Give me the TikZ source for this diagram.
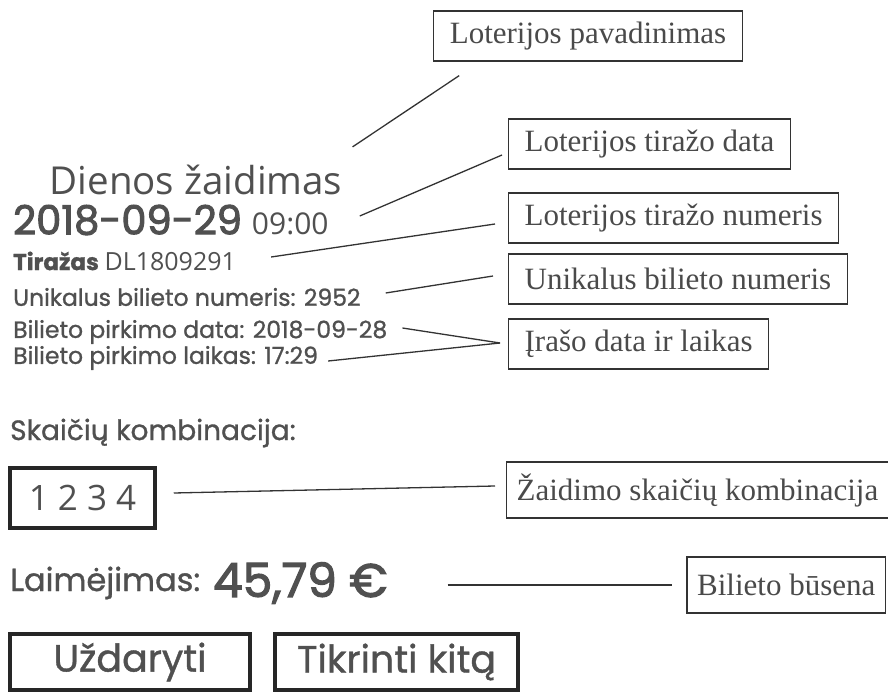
\documentclass[tikz,border=0pt]{standalone}
\usepackage{fontspec}
\setmainfont{Liberation Serif}
\newfontfamily\humanfont{Open Sans}
\newfontfamily\geofont[FakeBold=1]{Poppins}
\newfontfamily\geoheavy[FakeBold=2.5]{Poppins}
\usepackage{tikz}
\usetikzlibrary{positioning}
\definecolor{ink}{HTML}{333333}
\definecolor{inkgray}{HTML}{505050}
\definecolor{boxtext}{HTML}{4A4A4A}
\newcommand{\fsz}[1]{\fontsize{#1}{#1}\selectfont}
\tikzset{
  callout/.style={
    draw=ink,
    line width=1.3pt,
    text=boxtext,
    font=\rmfamily\fsz{31},
    inner xsep=16pt,
    inner ysep=0pt,
    minimum height=50pt,
  },
  leader/.style={draw=ink, line width=1.3pt},
  ticket/.style={inner sep=0pt, anchor=west, text=inkgray},
  framed/.style={draw=black!85, line width=3.5pt, text=inkgray, inner sep=0pt},
}

\begin{document}
\begin{tikzpicture}[x=1pt,y=-1pt]
  \fill[white] (0,0) rectangle (888,692);
  \useasboundingbox (0,0) rectangle (888,692);

  % --- ticket ---
  \node[ticket, anchor=center, font=\humanfont\fsz{38.5}] (dienos) at (196,180) {Dienos žaidimas};
  \node[ticket, font=\fsz{40}] (drawdate) at (13,220) {{\geoheavy 2018-09-29} {\humanfont\fsz{30}09:00}};
  \node[ticket, font=\fsz{23}] (tiraz) at (13,261) {{\geofont\bfseries Tiražas} {\humanfont\fsz{25}DL1809291}};
  \node[ticket, font=\geofont\fsz{23.5}] (unik) at (13,297) {Unikalus bilieto numeris: 2952};
  \node[ticket, font=\geofont\fsz{23.5}] (pdata) at (13,332) {Bilieto pirkimo data: 2018-09-28};
  \node[ticket, font=\geofont\fsz{23.5}] (plaik) at (13,358) {Bilieto pirkimo laikas: 17:29};

  \node[ticket, font=\geofont\fsz{28}] (skaic) at (10,433) {Skaičių kombinacija:};
  \node[framed, minimum width=145pt, minimum height=60pt, font=\humanfont\fsz{35}] (combo) at (82.5,498) {1 2 3 4};
  \node[ticket, font=\geofont\fsz{32}] (laim) at (10,583) {Laimėjimas:};
  \node[ticket, font=\geoheavy\fsz{47}] (suma) at (213,583) {45,79 €};

  \node[framed, minimum width=240pt, minimum height=56pt, font=\geofont\fsz{38}] (uzd) at (130,662) {Uždaryti};
  \node[framed, minimum width=243pt, minimum height=56pt, font=\geofont\fsz{38}] (tikr) at (396.5,662) {Tikrinti kitą};

  % --- callouts ---
  \node[callout] (pav) at (588,36) {Loterijos pavadinimas};
  \node[callout, anchor=west] (tdata) at (508,144) {Loterijos tiražo data};
  \node[callout, anchor=west] (tnum) at (508,218) {Loterijos tiražo numeris};
  \node[callout, anchor=west] (bnum) at (508,279) {Unikalus bilieto numeris};
  \node[callout, anchor=west] (irasas) at (508,344) {Įrašo data ir laikas};
  \node[callout, anchor=west, inner xsep=10pt, minimum height=56pt] (zkomb) at (506,490) {Žaidimo skaičių kombinacija};
  \node[callout, anchor=east, inner xsep=10pt, minimum height=56pt] (busena) at (886,585) {Bilieto būsena};

  % leaders
  \draw[leader] ([shift={(10,-18)}]dienos.north east) -- ([shift={(26,14)}]pav.south west);
  \draw[leader] ([shift={(31,-4)}]drawdate.east) -- ([shift={(-6,11)}]tdata.west);
  \draw[leader] ([shift={(35,-4)}]tiraz.east) -- ([shift={(-13,6)}]tnum.west);
  \draw[leader] ([shift={(25,-4)}]unik.east) -- ([shift={(-15,-3)}]bnum.west);
  \draw[leader] ([shift={(15,-4)}]pdata.east) -- ([shift={(-8,-1)}]irasas.west);
  \draw[leader] ([shift={(10,3)}]plaik.east) -- ([shift={(-8,-1)}]irasas.west);
  \draw[leader] ([shift={(17,-5)}]combo.east) -- ([shift={(-11,-4)}]zkomb.west);
  \draw[leader] ([shift={(60,2)}]suma.east) -- ([shift={(-14,0)}]busena.west);
\end{tikzpicture}
\end{document}
